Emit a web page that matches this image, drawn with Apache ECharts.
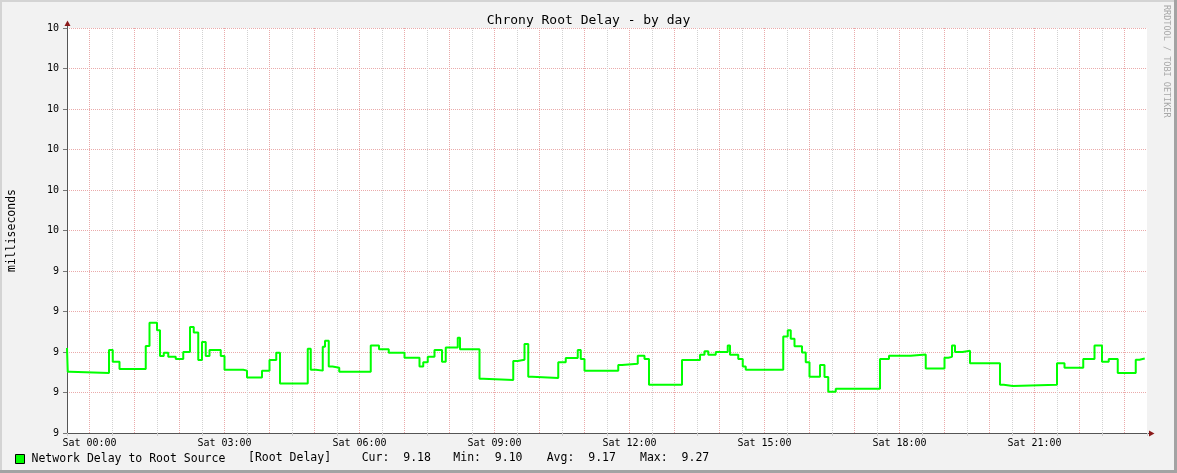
<!DOCTYPE html>
<html>
<head>
<meta charset="utf-8">
<script src="https://cdn.jsdelivr.net/npm/echarts@6/dist/echarts.min.js"></script>
<style>
    html, body { margin: 0; padding: 0; background: #f2f2f2; }
    #chart { width: 1177px; height: 473px; }
</style>
</head>
<body>
<div id="chart"></div>
<script>
// minutes after Sat 00:00 where each step of the line starts
const times = [
    -30, -29, -26, 26, 31, 40, 75, 80, 90, 94,
    99, 105, 115, 125, 134, 139, 145, 150, 155, 160,
    175, 180, 205, 210, 230, 240, 249, 254, 291, 295,
    302, 311, 314, 319, 324, 333, 375, 386, 399, 420,
    440, 445, 451, 460, 470, 475, 491, 494, 520, 525,
    565, 571, 580, 585, 590, 625, 635, 651, 655, 660,
    705, 710, 731, 740, 746, 790, 814, 820, 825, 835,
    851, 854, 865, 871, 875, 925, 931, 935, 940, 950,
    955, 960, 974, 980, 985, 995, 1054, 1066, 1095, 1115,
    1140, 1145, 1150, 1154, 1164, 1174, 1214, 1219, 1231, 1290,
    1300, 1325, 1340, 1350, 1359, 1371, 1395, 1400, 1407
];
// root delay in milliseconds
const delays = [
    9.21, 9.151, 9.148, 9.205, 9.176, 9.158, 9.215, 9.272, 9.254, 9.19,
    9.198, 9.188, 9.183, 9.2, 9.262, 9.248, 9.18, 9.225, 9.19, 9.205,
    9.19, 9.156, 9.154, 9.137, 9.154, 9.18, 9.198, 9.122, 9.208, 9.156,
    9.154, 9.213, 9.228, 9.164, 9.161, 9.151, 9.216, 9.207, 9.198, 9.186,
    9.164, 9.175, 9.188, 9.205, 9.176, 9.211, 9.235, 9.207, 9.134, 9.131,
    9.178, 9.181, 9.22, 9.139, 9.136, 9.175, 9.185, 9.205, 9.183, 9.154,
    9.168, 9.171, 9.191, 9.183, 9.119, 9.18, 9.193, 9.202, 9.193, 9.2,
    9.216, 9.193, 9.183, 9.164, 9.156, 9.238, 9.254, 9.233, 9.214, 9.199,
    9.175, 9.139, 9.168, 9.138, 9.102, 9.109, 9.183, 9.191, 9.194, 9.159,
    9.186, 9.188, 9.216, 9.2, 9.203, 9.172, 9.119, 9.116, 9.119, 9.172,
    9.161, 9.183, 9.216, 9.176, 9.183, 9.148, 9.181, 9.184, 9.184
];

const xLabelMinutes = [0, 180, 360, 540, 720, 900, 1080, 1260];
const xLabels = ['Sat 00:00', 'Sat 03:00', 'Sat 06:00', 'Sat 09:00', 'Sat 12:00', 'Sat 15:00', 'Sat 18:00', 'Sat 21:00'];

const seriesName = 'Network Delay to Root Source';
const dsName = '[Root Delay]';
const statNames = ['Cur:', 'Min:', 'Avg:', 'Max:'];
const statValues = ['9.18', '9.10', '9.17', '9.27'];

const mono = 'DejaVu Sans Mono';
const statX = [361.7, 453.3, 546.7, 640];

const chart = echarts.init(document.getElementById('chart'));

const statTexts = statNames.map((n, i) => ({
    type: 'text',
    left: statX[i],
    top: 452,
    style: { text: n + '  ' + statValues[i], font: '11.5px "' + mono + '"', fill: '#000' }
}));

const option = {
    animation: false,
    backgroundColor: '#f2f2f2',
    title: {
        text: 'Chrony Root Delay - by day',
        left: 'center',
        top: 9,
        textStyle: { fontFamily: mono, fontSize: 13, fontWeight: 'normal', color: '#000' }
    },
    legend: {
        data: [seriesName],
        left: 15,
        top: 453,
        padding: 0,
        icon: 'rect',
        itemWidth: 9,
        itemHeight: 9,
        itemGap: 0,
        itemStyle: { borderColor: '#000', borderWidth: 1 },
        textStyle: { fontFamily: mono, fontSize: 11.5, color: '#000', padding: [0, 0, 0, 2] }
    },
    grid: {
        left: 67,
        top: 28,
        width: 1080,
        height: 405,
        containLabel: false,
        outerBoundsMode: 'none',
        show: true,
        backgroundColor: '#fff',
        borderWidth: 0
    },
    xAxis: [{
        // half-hour minor grid (gray): ticks counted from min -30 every 60 min
        type: 'value',
        position: 'bottom',
        min: -30,
        max: 1410,
        interval: 60,
        axisLine: { show: false },
        axisTick: { length: 3, lineStyle: { color: '#cfcfcf' } },
        axisLabel: { show: false },
        splitLine: {
            show: true,
            showMinLine: false,
            showMaxLine: false,
            lineStyle: { color: '#d2d2d2', type: 'dotted', width: 1 }
        }
    }, {
        // hour major grid (red, every second line), labels and data
        type: 'value',
        position: 'bottom',
        min: -30,
        max: 1410,
        interval: 30,
        axisLine: { onZero: false, lineStyle: { color: '#555', width: 1 } },
        axisTick: { show: false },
        axisLabel: {
            margin: 5,
            fontFamily: mono,
            fontSize: 10,
            color: '#000',
            formatter: v => {
                const i = xLabelMinutes.indexOf(v);
                return i >= 0 ? xLabels[i] : '';
            }
        },
        splitLine: {
            show: true,
            lineStyle: { color: ['rgba(0,0,0,0)', '#eaaaaa'], type: 'dotted', width: 1 }
        }
    }],
    yAxis: {
        type: 'value',
        min: 9,
        max: 10,
        interval: 0.1,
        name: 'milliseconds',
        nameLocation: 'middle',
        nameGap: 49,
        nameTextStyle: { fontFamily: mono, fontSize: 11.5, color: '#000' },
        axisLine: { show: true, onZero: false, lineStyle: { color: '#555', width: 1 } },
        axisTick: { show: true, length: 4, lineStyle: { color: '#777' } },
        axisLabel: {
            margin: 8,
            fontFamily: mono,
            fontSize: 10,
            color: '#000',
            formatter: v => String(Math.round(v))
        },
        splitLine: { lineStyle: { color: '#eaaaaa', type: 'dotted', width: 1 } }
    },
    series: [{
        name: seriesName,
        type: 'line',
        xAxisIndex: 1,
        step: 'end',
        showSymbol: false,
        data: times.map((t, i) => [t, delays[i]]),
        lineStyle: { color: '#00ff00', width: 2 },
        itemStyle: { color: '#00ff00' }
    }],
    graphic: [
        { type: 'rect', shape: { x: 0, y: 0, width: 1177, height: 2 }, style: { fill: '#d4d4d4' } },
        { type: 'rect', shape: { x: 0, y: 0, width: 2, height: 473 }, style: { fill: '#d4d4d4' } },
        { type: 'rect', shape: { x: 1174, y: 0, width: 3, height: 473 }, style: { fill: '#a3a3a3' } },
        { type: 'rect', shape: { x: 0, y: 470, width: 1177, height: 3 }, style: { fill: '#a3a3a3' } },
        { type: 'line', shape: { x1: 67.5, y1: 28, x2: 67.5, y2: 24 }, style: { stroke: '#555' } },
        { type: 'polygon', shape: { points: [[64.5, 26], [70.5, 26], [67.5, 20.5]] }, style: { fill: '#8b1a1a' } },
        { type: 'line', shape: { x1: 1147, y1: 433.5, x2: 1151, y2: 433.5 }, style: { stroke: '#555' } },
        { type: 'polygon', shape: { points: [[1149, 430.5], [1149, 436.5], [1154.5, 433.5]] }, style: { fill: '#8b1a1a' } },
        {
            type: 'text',
            x: 1171,
            y: 5,
            rotation: -Math.PI / 2,
            style: { text: 'RRDTOOL / TOBI OETIKER', font: '8.5px "' + mono + '"', fill: '#a8a8a8', align: 'left', verticalAlign: 'top' }
        },
        {
            type: 'text',
            left: 248,
            top: 452,
            style: { text: dsName, font: '11.5px "' + mono + '"', fill: '#000' }
        }
    ].concat(statTexts)
};

chart.setOption(option);
</script>
</body>
</html>
